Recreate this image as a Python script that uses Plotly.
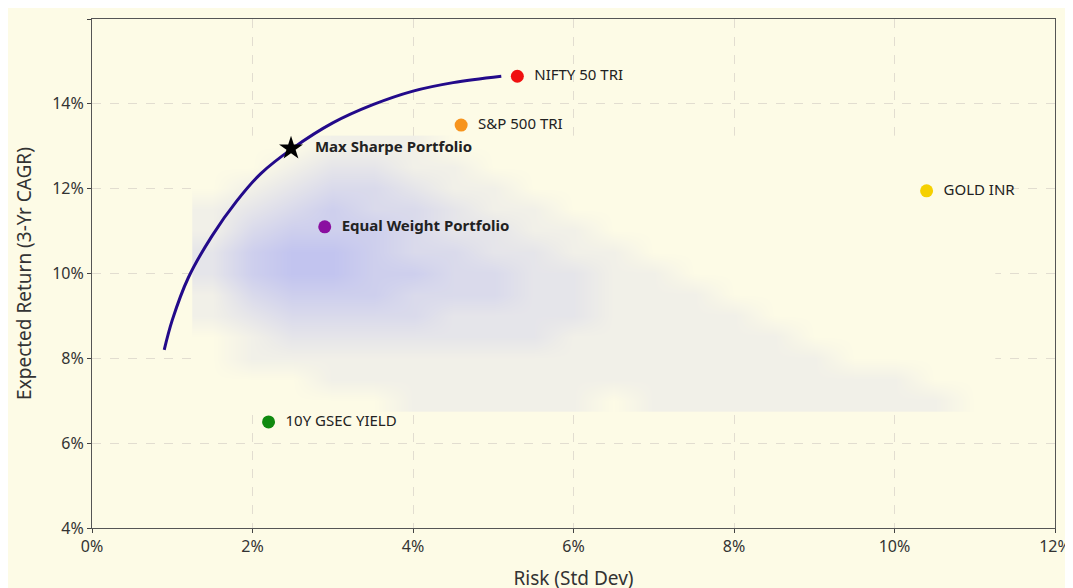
import plotly.graph_objects as go

# efficient frontier (risk %, return %)
frontier_x = [0.9, 1.0, 1.2, 1.5, 1.8, 2.1, 2.5, 3.0, 3.5, 4.0, 4.5, 5.1]
frontier_y = [8.2, 8.9, 9.9, 10.9, 11.7, 12.35, 12.95, 13.55, 13.98, 14.3, 14.5, 14.65]

# rough density of the simulated-portfolio cloud
cloud_x = [1.5 + 0.5 * i for i in range(20)]
cloud_y = [7.0, 7.5, 8.0, 8.5, 9.0, 9.5, 10.0, 10.5, 11.0, 11.5, 12.0, 12.5, 13.0]
cloud_z = [
    [0, 0, 0, 0, 0, 1, 1, 1, 1, 1, 0, 1, 1, 1, 1, 1, 1, 1, 1, 0],
    [0, 0, 0, 1, 1, 1, 1, 1, 1, 1, 1, 1, 1, 1, 1, 1, 1, 1, 0, 0],
    [0, 1, 1, 1, 1, 1, 1, 1, 1, 1, 1, 1, 1, 1, 1, 1, 0, 0, 0, 0],
    [0, 1, 2, 2, 2, 2, 2, 2, 2, 1, 1, 1, 1, 1, 1, 0, 0, 0, 0, 0],
    [1, 2, 3, 3, 3, 3, 2, 2, 2, 2, 1, 1, 1, 1, 0, 0, 0, 0, 0, 0],
    [1, 3, 4, 4, 4, 3, 3, 3, 2, 2, 1, 1, 1, 0, 0, 0, 0, 0, 0, 0],
    [2, 4, 5, 5, 4, 4, 3, 3, 2, 2, 1, 1, 0, 0, 0, 0, 0, 0, 0, 0],
    [2, 4, 5, 5, 4, 3, 3, 2, 2, 1, 1, 0, 0, 0, 0, 0, 0, 0, 0, 0],
    [1, 3, 4, 4, 4, 3, 2, 2, 1, 1, 0, 0, 0, 0, 0, 0, 0, 0, 0, 0],
    [1, 2, 3, 4, 3, 3, 2, 1, 1, 0, 0, 0, 0, 0, 0, 0, 0, 0, 0, 0],
    [0, 1, 2, 3, 3, 2, 1, 1, 0, 0, 0, 0, 0, 0, 0, 0, 0, 0, 0, 0],
    [0, 0, 1, 2, 2, 1, 1, 0, 0, 0, 0, 0, 0, 0, 0, 0, 0, 0, 0, 0],
    [0, 0, 0, 1, 1, 1, 0, 0, 0, 0, 0, 0, 0, 0, 0, 0, 0, 0, 0, 0],
]

assets = ["NIFTY 50 TRI", "S&P 500 TRI", "GOLD INR", "Equal Weight Portfolio", "10Y GSEC YIELD"]
asset_risk = [5.3, 4.6, 10.4, 2.9, 2.2]
asset_ret = [14.65, 13.5, 11.95, 11.1, 6.5]
asset_colors = ["#f01010", "#f7941d", "#f5d000", "#8a0fa0", "#108a10"]

sharpe_risk = [2.48]
sharpe_ret = [12.95]

BG = "#fdfbe6"

fig = go.Figure()
fig.add_trace(go.Heatmap(
    x=cloud_x, y=cloud_y, z=cloud_z, zsmooth="best", showscale=False,
    colorscale=[[0, BG], [1, "#c2c4ef"]],
    hoverinfo="skip",
))
fig.add_trace(go.Scatter(
    x=frontier_x, y=frontier_y, mode="lines", line=dict(color="#230a8a", width=3, shape="spline"),
))
labels = ["  <b>" + a + "</b>" if "Portfolio" in a else "  " + a for a in assets]
fig.add_trace(go.Scatter(
    x=asset_risk, y=asset_ret, mode="markers+text", text=labels, textposition="middle right",
    marker=dict(size=13, color=asset_colors), textfont=dict(size=15, color="#222"),
))
fig.add_trace(go.Scatter(
    x=sharpe_risk, y=sharpe_ret, mode="markers+text", text=["   <b>Max Sharpe Portfolio</b>"],
    textposition="middle right", marker=dict(symbol="star", size=18, color="black"),
    textfont=dict(size=15, color="#222"),
))

fig.update_layout(
    width=1073, height=588, showlegend=False,
    paper_bgcolor=BG, plot_bgcolor=BG,
    font=dict(family="Noto Sans, sans-serif", size=16, color="#333"),
    margin=dict(l=84, r=18, t=10, b=54),
)
fig.update_xaxes(range=[0, 12], dtick=2, ticksuffix="%", title_text="Risk (Std Dev)",
                 showgrid=True, gridcolor="#e2ddd0", griddash="dash", zeroline=False,
                 showline=True, linecolor="#555", mirror=True, ticks="outside", ticklen=4)
fig.update_yaxes(range=[4, 16], dtick=2, ticksuffix="%", title_text="Expected Return (3-Yr CAGR)",
                 showgrid=True, gridcolor="#e2ddd0", griddash="dash", zeroline=False,
                 showline=True, linecolor="#555", mirror=True, ticks="outside", ticklen=4)

fig.write_html("out.html")
